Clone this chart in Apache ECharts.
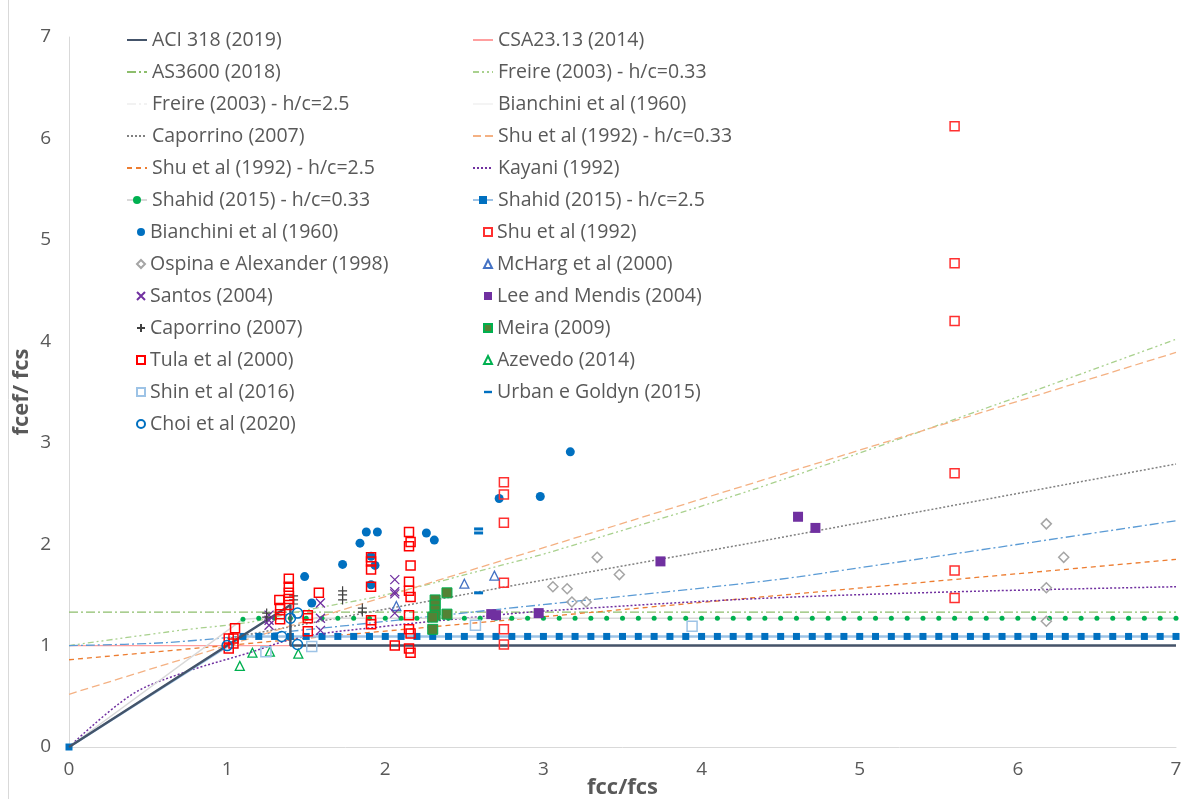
<!DOCTYPE html>
<html>
<head>
<meta charset="utf-8">
<script src="https://cdn.jsdelivr.net/npm/echarts@6/dist/echarts.min.js"></script>
<style>html,body{margin:0;padding:0;background:#fff}#c{width:1203px;height:799px}</style>
</head>
<body>
<div id="c"></div>
<script>
// ---------- data ----------
const xTicks = [0,1,2,3,4,5,6,7];
const yTicks = [0,1,2,3,4,5,6,7];

// design-code / model curves [fcc/fcs, fcef/fcs]
const aci318 = [[0,0],[1,1],[1.4,1.4],[1.4,1],[7,1]];
const csa2314 = [[0,1],[7,1]];
const as3600 = [[0,1.33],[7,1.33]];
const freire033 = [[0,1],[0.7,1.15],[1.14,1.23],[1.5,1.35],[2,1.5],[2.73,1.79],[3.04,1.92],[4.31,2.53],[5.78,3.33],[7,4.02]];
const freire25 = [[0,1],[0.62,1.03],[1.46,1.15],[2.73,1.36],[3.78,1.53],[4.31,1.62],[4.62,1.68],[7,2.23]];
const bianchiniLine = [];
const caporrinoLine = [[1,1.07],[2.73,1.57],[4.31,2.01],[7,2.79]];
const shu033 = [[0,0.52],[7,3.89]];
const shu25 = [[0,0.86],[7,1.85]];
const kayani = [[0,0],[0.39,0.51],[0.7,0.72],[1.12,0.92],[1.46,1.08],[2.0,1.19],[2.7,1.30],[3.0,1.34],[4.31,1.46],[5.6,1.53],[7,1.58]];
const shahidX = [0,1.1,1.2,1.3,1.4,1.5,1.6,1.7,1.8,1.9,2.0,2.1,2.2,2.3,2.4,2.5,2.6,2.7,2.8,2.9,3.0,3.1,3.2,3.3,3.4,3.5,3.6,3.7,3.8,3.9,4.0,4.1,4.2,4.3,4.4,4.5,4.6,4.7,4.8,4.9,5.0,5.1,5.2,5.3,5.4,5.5,5.6,5.7,5.8,5.9,6.0,6.1,6.2,6.3,6.4,6.5,6.6,6.7,6.8,6.9,7.0];
const shahid033Y = [0,1.26,1.27,1.27,1.27,1.27,1.27,1.27,1.27,1.27,1.27,1.27,1.27,1.27,1.27,1.27,1.27,1.27,1.27,1.27,1.27,1.27,1.27,1.27,1.27,1.27,1.27,1.27,1.27,1.27,1.27,1.27,1.27,1.27,1.27,1.27,1.27,1.27,1.27,1.27,1.27,1.27,1.27,1.27,1.27,1.27,1.27,1.27,1.27,1.27,1.27,1.27,1.27,1.27,1.27,1.27,1.27,1.27,1.27,1.27,1.27];
const shahid25Y = [0,1.09,1.09,1.09,1.09,1.09,1.09,1.09,1.09,1.09,1.09,1.09,1.09,1.09,1.09,1.09,1.09,1.09,1.09,1.09,1.09,1.09,1.09,1.09,1.09,1.09,1.09,1.09,1.09,1.09,1.09,1.09,1.09,1.09,1.09,1.09,1.09,1.09,1.09,1.09,1.09,1.09,1.09,1.09,1.09,1.09,1.09,1.09,1.09,1.09,1.09,1.09,1.09,1.09,1.09,1.09,1.09,1.09,1.09,1.09,1.09];

// experimental results [fcc/fcs, fcef/fcs]
const bianchiniPts = [[1.49,1.68],[1.535,1.42],[1.73,1.80],[1.84,2.01],[1.88,2.12],[1.95,2.12],[1.91,1.88],[1.935,1.79],[1.91,1.60],[2.26,2.11],[2.31,2.04],[2.72,2.45],[2.98,2.47],[3.17,2.91]];
const shuPts = [[2.75,2.61],[2.75,2.49],[2.75,2.21],[2.75,1.62],[2.75,1.16],[2.75,1.01],[5.6,6.12],[5.6,4.77],[5.6,4.20],[5.6,2.70],[5.6,1.74],[5.6,1.47]];
const ospinaPts = [[3.34,1.87],[3.48,1.70],[3.06,1.58],[3.15,1.56],[3.18,1.43],[3.27,1.43],[6.18,2.20],[6.29,1.87],[6.18,1.57],[6.18,1.24]];
const mchargPts = [[2.07,1.39],[2.5,1.61],[2.69,1.69]];
const santosPts = [[2.06,1.65],[2.06,1.53],[2.06,1.51],[2.06,1.32],[1.59,1.42],[1.59,1.27],[1.59,1.15],[1.265,1.30],[1.265,1.25],[1.265,1.20]];
const leeMendisPts = [[2.67,1.31],[2.70,1.30],[2.97,1.32],[3.74,1.83],[4.61,2.27],[4.72,2.16]];
const caporrinoPts = [[1.25,1.32],[1.25,1.28],[1.42,1.49],[1.42,1.45],[1.42,1.41],[1.73,1.54],[1.73,1.50],[1.73,1.45],[1.855,1.37],[1.855,1.33]];
const meiraPts = [[2.315,1.45],[2.315,1.40],[2.315,1.35],[2.315,1.30],[2.30,1.28],[2.39,1.52],[2.39,1.31],[2.30,1.16]];
const tulaPts = [[1.01,1.07],[1.04,1.07],[1.04,1.02],[1.01,0.97],[1.05,1.17],[1.33,1.45],[1.335,1.37],[1.335,1.31],[1.335,1.26],[1.39,1.66],[1.39,1.58],[1.39,1.52],[1.39,1.46],[1.39,1.40],[1.51,1.30],[1.51,1.27],[1.51,1.14],[1.58,1.52],[1.91,1.87],[1.91,1.83],[1.91,1.75],[1.91,1.58],[1.91,1.25],[1.91,1.21],[2.06,1.00],[2.15,2.12],[2.16,2.02],[2.15,1.98],[2.16,1.79],[2.15,1.63],[2.15,1.54],[2.16,1.48],[2.15,1.30],[2.15,1.16],[2.16,1.12],[2.15,0.97],[2.16,0.93]];
const azevedoPts = [[1.16,0.93],[1.08,0.80],[1.27,0.94],[1.45,0.92]];
const shinPts = [[1.245,0.94],[1.535,0.99],[2.57,1.20],[3.94,1.19]];
const urbanPts = [[2.59,2.15],[2.59,2.11],[2.59,1.52]];
const choiPts = [[1.0,1.0],[1.345,1.09],[1.40,1.27],[1.445,1.32],[1.445,1.01]];

// ---------- chart ----------
const zip = (xs, ys) => xs.map((x, i) => [x, ys[i]]);
const FONT = 'Open Sans';
const TXT = '#595959';
const NB = ' '; // trailing space keeps duplicate legend names distinct

function line(name, data, color, width, type, extra) {
  return Object.assign({
    name, type: 'line', data, symbol: 'none', showSymbol: false, z: 2,
    lineStyle: { color, width, type }, itemStyle: { color }, animation: false
  }, extra || {});
}
function pts(name, data, symbol, size, fill, border, bw, extra) {
  return Object.assign({
    name, type: 'scatter', data, symbol, symbolSize: size, z: 5,
    itemStyle: { color: fill, borderColor: border, borderWidth: bw, opacity: 1 }, animation: false
  }, extra || {});
}

const XPATH = 'path://M0,0L10,10M10,0L0,10';
const PLUS = 'path://M5,0L5,10M0,5L10,5';
const CLEAR = 'rgba(255,255,255,0)';

const series = [
  line('ACI 318 (2019)', aci318, '#44546A', 2.5, 'solid', { z: 4 }),
  line('CSA23.13 (2014)', csa2314, '#FF9F9F', 1.2, 'solid'),
  line('AS3600 (2018)', as3600, '#8DBE6C', 1.3, [9, 3, 2, 3]),
  line('Freire (2003) - h/c=0.33', freire033, '#A9D18E', 1.3, [6, 3, 2, 3, 2, 3], { smooth: 0.3 }),
  line('Freire (2003) - h/c=2.5', freire25, '#5B9BD5', 1.3, [9, 3, 2, 3], { smooth: 0.3 }),
  line('Bianchini et al (1960)' + NB, bianchiniLine, '#F4F4F4', 1, 'solid'),
  line('Caporrino (2007)' + NB, caporrinoLine, '#808080', 1.5, [2, 2]),
  line('Shu et al (1992) - h/c=0.33', shu033, '#F4B183', 1.3, [8, 4]),
  line('Shu et al (1992) - h/c=2.5', shu25, '#ED7D31', 1.3, [5, 4]),
  line('Kayani (1992)', kayani, '#7030A0', 1.5, [2, 2], { smooth: 0.35 }),
  line('Shahid (2015) - h/c=0.33', zip(shahidX, shahid033Y), '#D9D9D9', 1.5, 'solid',
       { symbol: 'circle', showSymbol: true, symbolSize: 5, itemStyle: { color: '#00B050' }, z: 3 }),
  line('Shahid (2015) - h/c=2.5', zip(shahidX, shahid25Y), '#9DC3E6', 2.5, 'solid',
       { symbol: 'rect', showSymbol: true, symbolSize: 7, itemStyle: { color: '#0070C0' }, z: 3 }),
  pts('Bianchini et al (1960)', bianchiniPts, 'circle', 9, '#0070C0', '#0070C0', 0),
  pts('Shu et al (1992)', shuPts, 'rect', 9, CLEAR, '#FF3030', 1.5),
  pts('Ospina e Alexander (1998)', ospinaPts, 'diamond', 10, CLEAR, '#A5A5A5', 1.5),
  pts('McHarg et al (2000)', mchargPts, 'triangle', 9, CLEAR, '#4472C4', 1.3),
  pts('Santos (2004)', santosPts, XPATH, 9, CLEAR, '#7030A0', 1.3),
  pts('Lee and Mendis (2004)', leeMendisPts, 'rect', 10, '#7030A0', '#7030A0', 0),
  pts('Caporrino (2007)', caporrinoPts, PLUS, 9, CLEAR, '#404040', 1.2),
  pts('Meira (2009)', meiraPts, 'rect', 10, '#548235', '#00B050', 1),
  pts('Tula et al (2000)', tulaPts, 'rect', 9, CLEAR, '#FF0000', 1.5),
  pts('Azevedo (2014)', azevedoPts, 'triangle', 9, CLEAR, '#00B050', 1.3),
  pts('Shin et al (2016)', shinPts, 'rect', 10, CLEAR, '#9DC3E6', 1.5),
  pts('Urban e Goldyn (2015)', urbanPts, 'rect', [9, 3], '#0070C0', '#0070C0', 0),
  pts('Choi et al (2020)', choiPts, 'circle', 10, CLEAR, '#0070C0', 1.5)
];

// legend columns (Excel row-major order split into two columns)
const leftLineNames = ['ACI 318 (2019)', 'AS3600 (2018)', 'Freire (2003) - h/c=2.5', 'Caporrino (2007)' + NB,
  'Shu et al (1992) - h/c=2.5', 'Shahid (2015) - h/c=0.33'];
const leftPointNames = ['Bianchini et al (1960)', 'Ospina e Alexander (1998)', 'Santos (2004)', 'Caporrino (2007)',
  'Tula et al (2000)', 'Shin et al (2016)', 'Choi et al (2020)'];
const rightLineNames = ['CSA23.13 (2014)', 'Freire (2003) - h/c=0.33', 'Bianchini et al (1960)' + NB,
  'Shu et al (1992) - h/c=0.33', 'Kayani (1992)', 'Shahid (2015) - h/c=2.5'];
const rightPointNames = ['Shu et al (1992)', 'McHarg et al (2000)', 'Lee and Mendis (2004)', 'Meira (2009)',
  'Azevedo (2014)', 'Urban e Goldyn (2015)'];

const withMarker = ['Shahid (2015) - h/c=0.33', 'Shahid (2015) - h/c=2.5'];
function lineLegendData(names) {
  return names.map(n => {
    if (withMarker.includes(n)) return { name: n };
    const item = { name: n, itemStyle: { opacity: 0 } };
    if (n === 'Freire (2003) - h/c=2.5') item.lineStyle = { color: '#F2F2F2' };
    return item;
  });
}
function pointLegendData(names) {
  return names.map(n => n === 'Urban e Goldyn (2015)'
    ? { name: n, icon: 'path://M0,0L10,0L10,3L0,3Z' } : { name: n });
}
const textStyle = { fontFamily: FONT, fontSize: 19.5, color: TXT, lineHeight: 22 };
const ROW = 32, TOP = 24;
const legends = [
  { left: 121, top: TOP, itemWidth: 20, itemHeight: 10, data: lineLegendData(leftLineNames) },
  { left: 131, top: TOP + 6 * ROW, itemWidth: 8, itemHeight: 8, data: pointLegendData(leftPointNames) },
  { left: 467, top: TOP, itemWidth: 20, itemHeight: 10, data: lineLegendData(rightLineNames) },
  { left: 478, top: TOP + 6 * ROW, itemWidth: 8, itemHeight: 8, data: pointLegendData(rightPointNames) }
].map(l => Object.assign({ orient: 'vertical', itemGap: ROW - 22, selectedMode: false, textStyle }, l));

const chart = echarts.init(document.getElementById('c'), null, { renderer: 'canvas' });
chart.setOption({
  backgroundColor: '#ffffff',
  animation: false,
  grid: { left: 69, right: 27, top: 37, bottom: 52, containLabel: false, outerBoundsMode: 'none' },
  legend: legends,
  xAxis: {
    type: 'value', min: xTicks[0], max: xTicks[xTicks.length - 1], interval: 1,
    name: 'fcc/fcs', nameLocation: 'middle', nameGap: 30, nameMoveOverlap: false,
    nameTextStyle: { fontFamily: FONT, fontSize: 22, fontWeight: 'bold', color: TXT },
    axisLine: { lineStyle: { color: '#D9D9D9', width: 1 } },
    axisTick: { show: false },
    axisLabel: { fontFamily: FONT, fontSize: 19, color: TXT, margin: 13 },
    splitLine: { show: false }
  },
  yAxis: {
    type: 'value', min: yTicks[0], max: yTicks[yTicks.length - 1], interval: 1,
    name: 'fcef/ fcs', nameLocation: 'middle', nameGap: 36, nameMoveOverlap: false,
    nameTextStyle: { fontFamily: FONT, fontSize: 22, fontWeight: 'bold', color: TXT },
    axisLine: { show: true, lineStyle: { color: '#D9D9D9', width: 1 } },
    axisTick: { show: false },
    axisLabel: { fontFamily: FONT, fontSize: 19, color: TXT, margin: 18 },
    splitLine: { show: false }
  },
  graphic: [{ type: 'line', shape: { x1: 8.5, y1: 0, x2: 8.5, y2: 799 }, style: { stroke: '#D9D9D9', lineWidth: 1 } }],
  series
});
</script>
</body>
</html>
